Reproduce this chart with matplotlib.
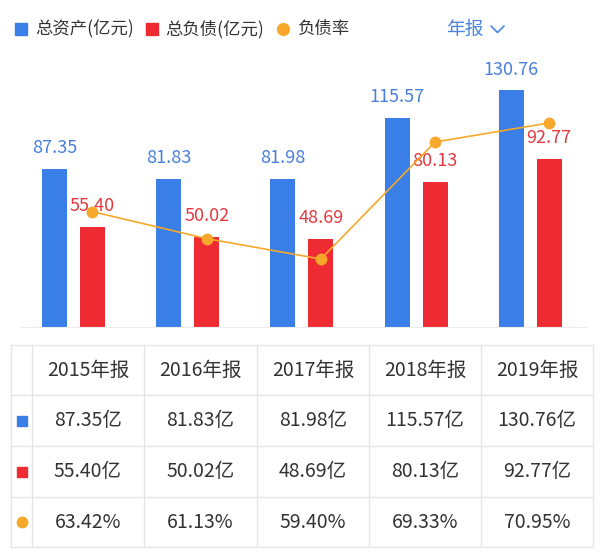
import numpy as np
import matplotlib.pyplot as plt

plt.rcParams['font.family'] = ['Noto Sans CJK SC', 'DejaVu Sans']

years = ["2015年报", "2016年报", "2017年报", "2018年报", "2019年报"]
total_assets = [87.35, 81.83, 81.98, 115.57, 130.76]
total_debt = [55.40, 50.02, 48.69, 80.13, 92.77]
debt_ratio = [63.42, 61.13, 59.40, 69.33, 70.95]
legend_labels = ["总资产(亿元)", "总负债(亿元)", "负债率"]

BLUE = "#3a7ee8"
RED = "#ee2b33"
ORANGE = "#f6a82a"
BLUE_TXT = "#4a80dc"
RED_TXT = "#e23a40"
GREY_TXT = "#333333"
GRID = "#e6e6e6"

W, H = 600, 555
fig = plt.figure(figsize=(W / 100, H / 100), dpi=100)

# chart area: baseline at y=327px, top at y=60px, x from 20 to 587px
ax = fig.add_axes([20 / W, 1 - 327 / H, 567 / W, 267 / H])
x = np.arange(len(years))
bw = 0.219
off = 0.166
ax.bar(x - off, total_assets, bw, color=BLUE, zorder=2)
ax.bar(x + off, total_debt, bw, color=RED, zorder=2)
for xi, v in zip(x, total_assets):
    ax.annotate(f"{v:.2f}", (xi - off, v), xytext=(0, 15), textcoords="offset points",
                ha="center", va="center", color=BLUE_TXT, fontsize=13)
for xi, v in zip(x, total_debt):
    ax.annotate(f"{v:.2f}", (xi + off, v), xytext=(0, 15), textcoords="offset points",
                ha="center", va="center", color=RED_TXT, fontsize=13)
ax.set_xlim(-0.468, 4.496)
ax.set_ylim(0, 147.6)

ax2 = ax.twinx()
ax2.plot(x + off, debt_ratio, color=ORANGE, lw=1.2, marker="o", ms=7.5, mec=ORANGE, zorder=5)
ax2.set_ylim(53.63, 76.29)
ax2.axis("off")

for s in ["top", "left", "right"]:
    ax.spines[s].set_visible(False)
ax.spines["bottom"].set_color("#ececec")
ax.set_xticks([])
ax.set_yticks([])

# overlay in pixel coordinates for legend and table
ov = fig.add_axes([0, 0, 1, 1], facecolor="none")
ov.set_xlim(0, W)
ov.set_ylim(H, 0)
ov.axis("off")

# legend
ly = 29
ov.plot(21, ly, marker="s", ms=8.5, color=BLUE, ls="none")
ov.text(35, ly, legend_labels[0], va="center", ha="left", fontsize=12.5, color=GREY_TXT)
ov.plot(152, ly, marker="s", ms=8.5, color=RED, ls="none")
ov.text(165, ly, legend_labels[1], va="center", ha="left", fontsize=12.5, color=GREY_TXT)
ov.plot(283, ly, marker="o", ms=8.5, color=ORANGE, ls="none")
ov.text(297, ly, legend_labels[2], va="center", ha="left", fontsize=12.5, color=GREY_TXT)
ov.text(465, ly, "年报", va="center", ha="center", fontsize=13.5, color="#4a86e0")
ov.plot([491, 497.5, 504], [26, 32.5, 26], color="#4a86e0", lw=1.2, solid_capstyle="round")

# table
col_edges = [11, 32, 144, 257, 369, 481, 593]
row_edges = [345, 395, 446, 497, 547]
for cx in col_edges:
    ov.plot([cx, cx], [row_edges[0], row_edges[-1]], color=GRID, lw=1)
for ry in row_edges:
    ov.plot([col_edges[0], col_edges[-1]], [ry, ry], color=GRID, lw=1)

rows = [years,
        [f"{v:.2f}亿" for v in total_assets],
        [f"{v:.2f}亿" for v in total_debt],
        [f"{v:.2f}%" for v in debt_ratio]]
for r, row in enumerate(rows):
    cy = (row_edges[r] + row_edges[r + 1]) / 2
    for c, txt in enumerate(row):
        cx = (col_edges[c + 1] + col_edges[c + 2]) / 2
        ov.text(cx, cy, txt, ha="center", va="center", fontsize=14, color=GREY_TXT)

ind_x = (col_edges[0] + col_edges[1]) / 2
ov.plot(ind_x, (row_edges[1] + row_edges[2]) / 2, marker="s", ms=7, color=BLUE, ls="none")
ov.plot(ind_x, (row_edges[2] + row_edges[3]) / 2, marker="s", ms=7, color=RED, ls="none")
ov.plot(ind_x, (row_edges[3] + row_edges[4]) / 2, marker="o", ms=7.5, color=ORANGE, ls="none")

fig.savefig("out.png", dpi=100)
